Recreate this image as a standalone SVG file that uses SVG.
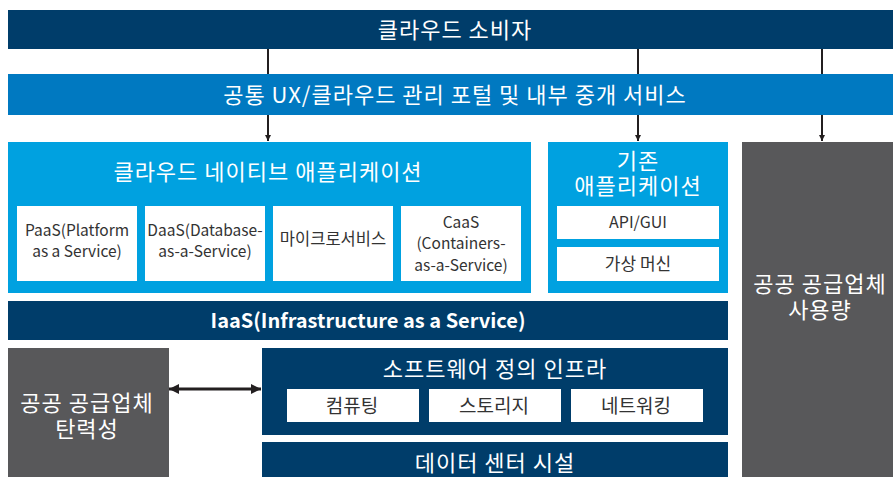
<svg xmlns="http://www.w3.org/2000/svg" width="893" height="477" viewBox="0 0 893 477">
  <style>
    .navy { fill: #003d6a; }
    .mid { fill: #0079c1; }
    .light { fill: #00a1e0; }
    .gray { fill: #58585a; }
    .card { fill: #ffffff; }
    text { font-family: "Noto Sans CJK KR", "Noto Sans", sans-serif; text-anchor: middle; dominant-baseline: central; }
    .t-big { fill: #ffffff; font-size: 22px; letter-spacing: 1px; }
    .t-bold { fill: #ffffff; font-size: 20px; font-weight: bold; }
    .t-card { fill: #333333; font-size: 15.5px; }
    .t-sdi { fill: #333333; font-size: 19px; }
    .link { stroke: #231f20; stroke-width: 2; fill: none; }
  </style>
  <defs>
    <marker id="head" viewBox="0 0 10 10" refX="10" refY="5" markerWidth="6" markerHeight="6" orient="auto" markerUnits="userSpaceOnUse">
      <path d="M0,0 L10,5 L0,10 z" fill="#231f20"/>
    </marker>
    <marker id="dbl" viewBox="0 0 10 10" refX="10" refY="5" markerWidth="10" markerHeight="10" orient="auto-start-reverse" markerUnits="userSpaceOnUse">
      <path d="M0,0 L10,5 L0,10 z" fill="#231f20"/>
    </marker>
  </defs>

  <!-- connectors -->
  <g id="connectors">
    <line class="link" x1="268" y1="49" x2="268" y2="74"/>
    <line class="link" x1="638" y1="49" x2="638" y2="74"/>
    <line class="link" x1="822" y1="49" x2="822" y2="74"/>
    <line class="link" x1="268" y1="115" x2="268" y2="141" marker-end="url(#head)"/>
    <line class="link" x1="638" y1="115" x2="638" y2="141" marker-end="url(#head)"/>
    <line class="link" x1="822" y1="115" x2="822" y2="141" marker-end="url(#head)"/>
    <line x1="169" y1="389" x2="261" y2="389" stroke="#231f20" stroke-width="3" marker-start="url(#dbl)" marker-end="url(#dbl)"/>
  </g>

  <g id="consumer">
    <rect class="navy" x="8" y="10" width="885" height="39"/>
    <text class="t-big" x="455" y="27.5">클라우드 소비자</text>
  </g>

  <g id="portal">
    <rect class="mid" x="8" y="74" width="885" height="41"/>
    <text class="t-big" x="455" y="92.5">공통 UX/클라우드 관리 포털 및 내부 중개 서비스</text>
  </g>

  <g id="cloud-native">
    <rect class="light" x="8" y="142" width="523" height="151"/>
    <text class="t-big" x="268" y="170">클라우드 네이티브 애플리케이션</text>
    <g id="paas">
      <rect class="card" x="17" y="206" width="120" height="75"/>
      <text class="t-card"><tspan x="77" y="229">PaaS(Platform</tspan><tspan x="77" y="250">as a Service)</tspan></text>
    </g>
    <g id="daas">
      <rect class="card" x="145" y="206" width="120" height="75"/>
      <text class="t-card"><tspan x="205" y="229">DaaS(Database-</tspan><tspan x="205" y="250">as-a-Service)</tspan></text>
    </g>
    <g id="microservices">
      <rect class="card" x="273" y="206" width="120" height="75"/>
      <text class="t-card" x="333" y="238" style="font-size:16.5px">마이크로서비스</text>
    </g>
    <g id="caas">
      <rect class="card" x="401" y="206" width="120" height="75"/>
      <text class="t-card"><tspan x="461" y="220.5">CaaS</tspan><tspan x="461" y="242">(Containers-</tspan><tspan x="461" y="263.5">as-a-Service)</tspan></text>
    </g>
  </g>

  <g id="legacy">
    <rect class="light" x="548" y="142" width="180" height="151"/>
    <text class="t-big"><tspan x="638" y="159">기존</tspan><tspan x="638" y="184">애플리케이션</tspan></text>
    <g id="api-gui">
      <rect class="card" x="557" y="206" width="162" height="33"/>
      <text class="t-card" x="638" y="221" style="font-size:16px">API/GUI</text>
    </g>
    <g id="vm">
      <rect class="card" x="557" y="247" width="162" height="34"/>
      <text class="t-card" x="638" y="262.5" style="font-size:17px">가상 머신</text>
    </g>
  </g>

  <g id="usage">
    <rect class="gray" x="742" y="142" width="151" height="335"/>
    <text class="t-big"><tspan x="820" y="282">공공 공급업체</tspan><tspan x="820" y="308">사용량</tspan></text>
  </g>

  <g id="iaas">
    <rect class="navy" x="8" y="301" width="720" height="39"/>
    <text class="t-bold" x="368" y="319.5">IaaS(Infrastructure as a Service)</text>
  </g>

  <g id="elasticity">
    <rect class="gray" x="8" y="348" width="161" height="129"/>
    <text class="t-big"><tspan x="87" y="401">공공 공급업체</tspan><tspan x="87" y="427">탄력성</tspan></text>
  </g>

  <g id="sdi">
    <rect class="navy" x="262" y="348" width="466" height="87"/>
    <text class="t-big" x="495" y="366.5">소프트웨어 정의 인프라</text>
    <g id="compute">
      <rect class="card" x="287" y="389" width="132" height="33"/>
      <text class="t-sdi" x="352" y="404">컴퓨팅</text>
    </g>
    <g id="storage">
      <rect class="card" x="429" y="389" width="132" height="33"/>
      <text class="t-sdi" x="494" y="404">스토리지</text>
    </g>
    <g id="network">
      <rect class="card" x="571" y="389" width="132" height="33"/>
      <text class="t-sdi" x="636" y="404">네트워킹</text>
    </g>
  </g>

  <g id="datacenter">
    <rect class="navy" x="262" y="442" width="466" height="35"/>
    <text class="t-big" x="495" y="460.5">데이터 센터 시설</text>
  </g>
</svg>
